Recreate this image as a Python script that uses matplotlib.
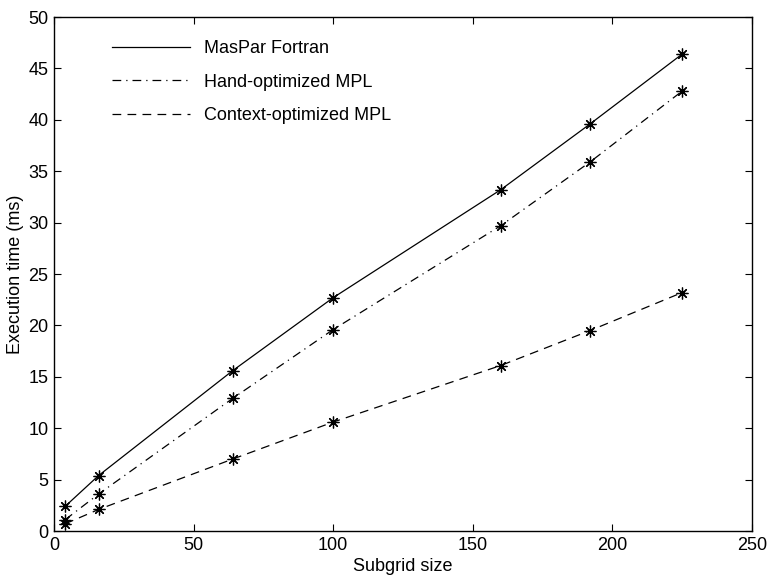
import matplotlib
matplotlib.use('Agg')
import matplotlib.pyplot as plt

# Subgrid sizes and execution times (ms)
subgrid = [4, 16, 64, 100, 160, 192, 225]
maspar_fortran = [2.4, 5.4, 15.6, 22.7, 33.2, 39.6, 46.4]
hand_mpl = [1.1, 3.6, 12.9, 19.6, 29.7, 35.9, 42.8]
context_mpl = [0.7, 2.1, 7.0, 10.6, 16.1, 19.5, 23.2]

plt.rcParams['font.family'] = ['Liberation Sans', 'DejaVu Sans']
plt.rcParams['font.size'] = 13

fig = plt.figure(figsize=(7.67, 5.75), dpi=100)
ax = fig.add_axes([0.0704, 0.0765, 0.9101, 0.8939])

star = (8, 2, 0)
ax.plot(subgrid, maspar_fortran, '-', color='black', linewidth=0.9,
        marker=star, markersize=8.5, markeredgewidth=0.9, label='MasPar Fortran')
ax.plot(subgrid, hand_mpl, color='black', linewidth=0.9, dashes=[7, 4, 1, 4],
        marker=star, markersize=8.5, markeredgewidth=0.9, label='Hand-optimized MPL')
ax.plot(subgrid, context_mpl, color='black', linewidth=0.9, dashes=[7, 5],
        marker=star, markersize=8.5, markeredgewidth=0.9, label='Context-optimized MPL')

ax.set_xlim(0, 250)
ax.set_ylim(0, 50)
ax.set_xticks(range(0, 251, 50))
ax.set_yticks(range(0, 51, 5))
ax.tick_params(direction='in', top=True, right=True, length=5, width=0.8, pad=4)
for s in ax.spines.values():
    s.set_linewidth(1.0)

ax.set_xlabel('Subgrid size', labelpad=3)
ax.set_ylabel('Execution time (ms)', labelpad=3)

leg = ax.legend(loc='upper left', bbox_to_anchor=(0.065, 0.979), frameon=False,
                handlelength=4.3, handletextpad=0.8, labelspacing=0.9,
                numpoints=1, borderaxespad=0.3)
for h in leg.get_lines():
    h.set_marker('')

fig.savefig('out.png', dpi=100)
